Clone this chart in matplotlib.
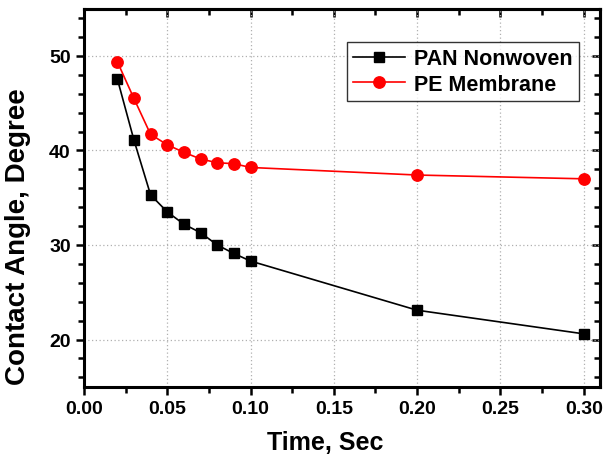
import matplotlib.pyplot as plt
from matplotlib.ticker import MultipleLocator, NullFormatter

# --- data ---
time_s = [0.02, 0.03, 0.04, 0.05, 0.06, 0.07, 0.08, 0.09, 0.10, 0.20, 0.30]
pan_nonwoven = [47.6, 41.1, 35.3, 33.5, 32.2, 31.3, 30.0, 29.1, 28.3, 23.1, 20.6]
pe_membrane = [49.4, 45.5, 41.7, 40.6, 39.8, 39.1, 38.7, 38.6, 38.2, 37.4, 37.0]

plt.rcParams["font.family"] = ["Liberation Sans", "DejaVu Sans"]
plt.rcParams["font.weight"] = "bold"

fig = plt.figure(figsize=(6.04, 4.60), dpi=100)
ax = fig.add_axes([0.139, 0.157, 0.855, 0.822])

ax.plot(time_s, pan_nonwoven, color="black", lw=1.2, marker="s", ms=7.8,
        label="PAN Nonwoven")
ax.plot(time_s, pe_membrane, color="red", lw=1.2, marker="o", ms=8.2,
        label="PE Membrane")

ax.set_xlim(0, 0.31)
ax.set_ylim(15, 55)
ax.xaxis.set_major_locator(MultipleLocator(0.05))
ax.xaxis.set_minor_locator(MultipleLocator(0.025))
ax.yaxis.set_major_locator(MultipleLocator(10))
ax.yaxis.set_minor_locator(MultipleLocator(2))
ax.xaxis.set_major_formatter(plt.FormatStrFormatter("%.2f"))

ax.grid(True, which="major", color="#b0b0b0", ls=(0, (1, 2)), lw=0.9)

for s in ax.spines.values():
    s.set_linewidth(2.2)

ax.tick_params(which="both", direction="out", width=1.8, labelsize=14)
ax.tick_params(which="major", length=6)
ax.tick_params(which="minor", length=4)

# top and right axes: ticks pointing inward, no labels
top = ax.secondary_xaxis("top")
right = ax.secondary_yaxis("right")
top.xaxis.set_major_locator(MultipleLocator(0.05))
top.xaxis.set_minor_locator(MultipleLocator(0.025))
right.yaxis.set_major_locator(MultipleLocator(10))
right.yaxis.set_minor_locator(MultipleLocator(2))
top.xaxis.set_major_formatter(NullFormatter())
right.yaxis.set_major_formatter(NullFormatter())
top.tick_params(which="both", direction="in", width=1.8, labeltop=False)
right.tick_params(which="both", direction="in", width=1.8, labelright=False)
for sec in (top, right):
    sec.tick_params(which="major", length=6)
    sec.tick_params(which="minor", length=4)
    for s in sec.spines.values():
        s.set_linewidth(2.2)

ax.set_xlabel("Time, Sec", fontsize=18, fontweight="bold")
ax.set_ylabel("Contact Angle, Degree", fontsize=20, fontweight="bold")
ax.xaxis.set_label_coords(0.467, -0.115)
ax.yaxis.set_label_coords(-0.102, 0.40)

leg = ax.legend(loc="upper right", bbox_to_anchor=(0.958, 0.912), fontsize=15.5,
                frameon=True, fancybox=False, edgecolor="black",
                handlelength=2.4, borderpad=0.3, labelspacing=0.2,
                handletextpad=0.4, borderaxespad=0)
leg.get_frame().set_linewidth(1.0)

fig.savefig("out.png", dpi=100)
